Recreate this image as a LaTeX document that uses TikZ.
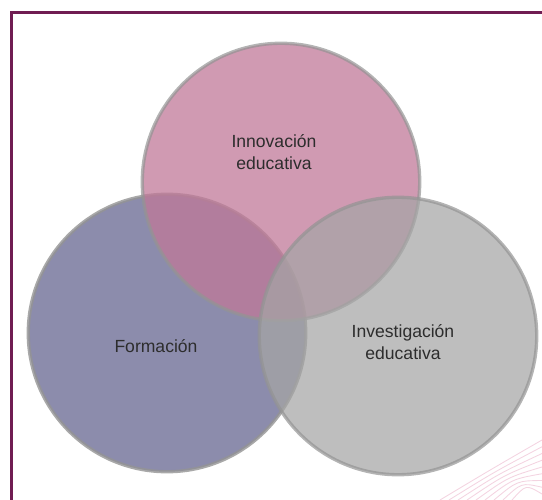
\documentclass[tikz,border=0pt]{standalone}
\usepackage{fontspec}
\setmainfont{Liberation Sans}
\usetikzlibrary{positioning}
\definecolor{marco}{RGB}{112,28,82}
\definecolor{rosa}{RGB}{192,120,152}
\definecolor{rosaclaro}{RGB}{232,170,196}
\definecolor{lila}{RGB}{140,140,172}
\definecolor{gris}{RGB}{165,165,165}
\definecolor{borde}{RGB}{148,148,148}
\definecolor{texto}{RGB}{45,45,45}
\tikzset{
circulo/.style = {circle, minimum size=5.55cm, inner sep=0pt,
                  fill=#1, draw=borde, line width=1.9pt},
rotulo/.style = {text=texto, align=center, inner sep=0pt,
                 font=\fontsize{10}{12.5}\selectfont},
}

\begin{document}
\begin{tikzpicture}[x=0.02cm, y=-0.02cm]
  \useasboundingbox (0,0) rectangle (542,500);
  % faint lines in the corner
  \foreach \d in {0,9,...,72}
    \draw[rosaclaro, line width=0.5pt, opacity=0.5]
      (440+\d,500) .. controls (490+\d*0.5,470+\d*0.2) .. (542,440+\d*0.75);
  % frame
  \draw[marco, line width=1.7pt] (11.5,500) -- (11.5,12.5) -- (542,12.5);

  % the three circles
  \node[circulo=lila, draw opacity=0.8] (formacion) at (167,333) {};
  \node[circulo=rosa, fill opacity=0.75, draw opacity=0.7] (innovacion) at (281,182) {};
  \node[circulo=gris, fill opacity=0.72, draw opacity=0.7] (investigacion) at (398,336) {};

  \node[rotulo] (innovtxt) at (274,152) {Innovación\\educativa};
  \node[rotulo] (formtxt) at (156,346) {Formación};
  \node[rotulo] (investtxt) at (403,342) {Investigación\\educativa};
\end{tikzpicture}
\end{document}
